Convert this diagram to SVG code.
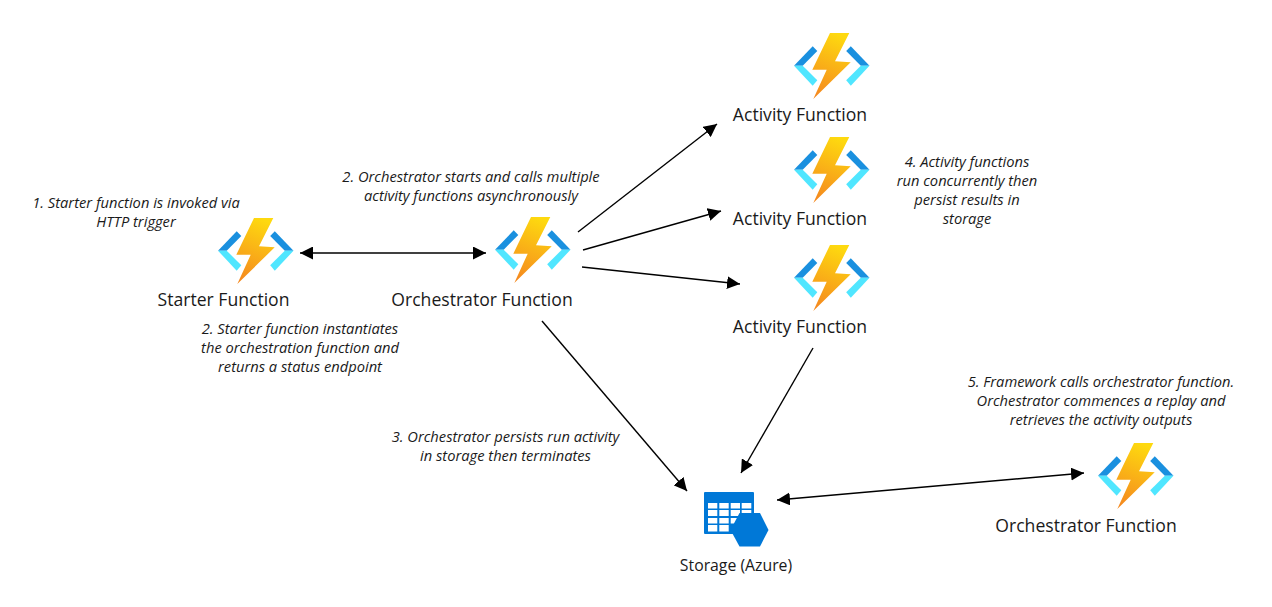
<svg xmlns="http://www.w3.org/2000/svg" width="1272" height="607" viewBox="0 0 1272 607">
<style>
text{font-family:"Open Sans","Noto Sans","Liberation Sans",sans-serif;fill:#1a1a1a;text-anchor:middle}
.n{font-size:17.6px}
.s{font-size:15.8px}
.i{font-size:14.7px;font-style:italic}
.c{stroke:#000;stroke-width:1.4;fill:none}
</style>
<defs>
<linearGradient id="bolt" x1="0.6" y1="0" x2="0.35" y2="1"><stop offset="0" stop-color="#fed90f"/><stop offset="1" stop-color="#f58a1f"/></linearGradient>
<marker id="ae" viewBox="0 0 13 13" refX="13" refY="6.500" markerWidth="13" markerHeight="13" markerUnits="userSpaceOnUse" orient="auto"><path d="M0 0L13 6.500L0 13z" fill="#000"/></marker>
<marker id="as" viewBox="0 0 13 13" refX="0" refY="6.500" markerWidth="13" markerHeight="13" markerUnits="userSpaceOnUse" orient="auto"><path d="M13 0L0 6.500L13 13z" fill="#000"/></marker>
<g id="fn">
<path d="M0 32.7L18.7 13.3L23.3 18L8.7 32.7z" fill="#1a90df"/>
<path d="M0 32.7H8.7L23.3 47.3L18.7 52.7z" fill="#50e6ff"/>
<path d="M75.5 32.7L56.8 13.3L52.2 18L66.8 32.7z" fill="#1a90df"/>
<path d="M75.5 32.7H66.8L52.2 47.3L56.8 52.7z" fill="#50e6ff"/>
<path d="M36 0H55.3L41 28.3L56.7 29.3L19.3 66L32.7 36.7H18.3z" fill="url(#bolt)"/>
</g>
</defs>
<g id="connectors">
<line class="c" x1="300" y1="253" x2="486" y2="253" marker-start="url(#as)" marker-end="url(#ae)"/>
<line class="c" x1="578" y1="232" x2="717" y2="124" marker-end="url(#ae)"/>
<line class="c" x1="583" y1="250" x2="721" y2="211" marker-end="url(#ae)"/>
<line class="c" x1="582" y1="267" x2="740" y2="284" marker-end="url(#ae)"/>
<line class="c" x1="542" y1="321" x2="687" y2="491" marker-end="url(#ae)"/>
<line class="c" x1="813" y1="348" x2="741" y2="473" marker-end="url(#ae)"/>
<line class="c" x1="777" y1="500" x2="1084" y2="473" marker-start="url(#as)" marker-end="url(#ae)"/>
</g>
<g id="starter"><use href="#fn" x="218" y="218"/><text class="n" x="223.500" y="306">Starter Function</text></g>
<g id="orchestrator"><use href="#fn" x="495" y="217"/><text class="n" x="482" y="306">Orchestrator Function</text></g>
<g id="activity1"><use href="#fn" x="794" y="33"/><text class="n" x="800" y="121">Activity Function</text></g>
<g id="activity2"><use href="#fn" x="794" y="137"/><text class="n" x="800" y="225">Activity Function</text></g>
<g id="activity3"><use href="#fn" x="794" y="245"/><text class="n" x="800" y="333">Activity Function</text></g>
<g id="orchestrator2"><use href="#fn" x="1098" y="443"/><text class="n" x="1086" y="532">Orchestrator Function</text></g>
<g id="storage">
<rect x="704" y="492" width="50" height="42" rx="1" fill="#0078d7"/>
<g fill="#fff">
<rect x="708" y="503" width="9.300" height="5.500"/><rect x="719.300" y="503" width="9.400" height="5.500"/><rect x="730.700" y="503" width="9.300" height="5.500"/><rect x="741.700" y="503" width="9.600" height="5.500"/>
<rect x="708" y="510" width="9.300" height="6"/><rect x="719.300" y="510" width="9.400" height="6"/><rect x="730.700" y="510" width="9.300" height="6"/><rect x="741.700" y="510" width="9.600" height="6"/>
<rect x="708" y="518" width="9.300" height="5.500"/><rect x="719.300" y="518" width="9.400" height="5.500"/><rect x="730.700" y="518" width="9.300" height="5.500"/>
<rect x="708" y="525" width="9.300" height="6.500"/><rect x="719.300" y="525" width="9.400" height="6.500"/>
</g>
<path d="M730.500 530L739.500 513H760L768.500 530L760 546.500H739.500z" fill="#0078d7"/>
<text class="s" x="736" y="571">Storage (Azure)</text>
</g>
<g id="notes">
<text class="i" x="136" y="208">1. Starter function is invoked via</text>
<text class="i" x="136" y="227">HTTP trigger</text>
<text class="i" x="471" y="182">2. Orchestrator starts and calls multiple</text>
<text class="i" x="471" y="201">activity functions asynchronously</text>
<text class="i" x="300" y="334">2. Starter function instantiates</text>
<text class="i" x="300" y="353">the orchestration function and</text>
<text class="i" x="300" y="372">returns a status endpoint</text>
<text class="i" x="505.500" y="442">3. Orchestrator persists run activity</text>
<text class="i" x="505.500" y="461">in storage then terminates</text>
<text class="i" x="967" y="167">4. Activity functions</text>
<text class="i" x="967" y="186">run concurrently then</text>
<text class="i" x="967" y="205">persist results in</text>
<text class="i" x="967" y="224">storage</text>
<text class="i" x="1101" y="387">5. Framework calls orchestrator function.</text>
<text class="i" x="1101" y="406">Orchestrator commences a replay and</text>
<text class="i" x="1101" y="425">retrieves the activity outputs</text>
</g>
</svg>
